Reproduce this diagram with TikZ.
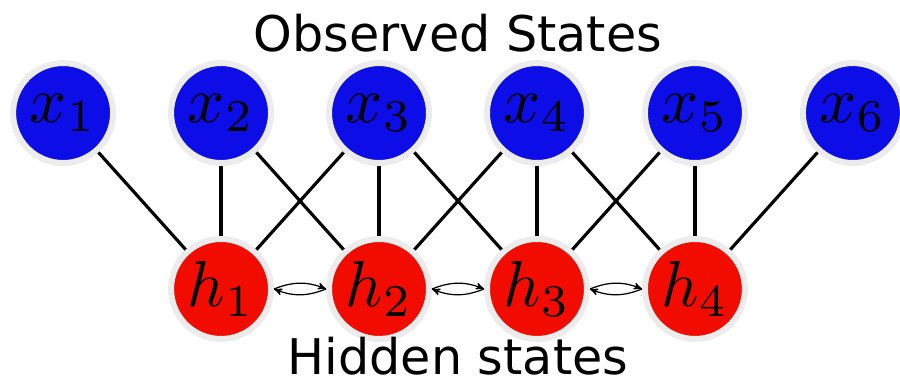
\documentclass[tikz,border=0pt]{standalone}
\usepackage{graphicx}
\usepackage{fontspec}
\setsansfont{DejaVu Sans}
\usepackage{tikz}
\usetikzlibrary{arrows}

% big math labels inside the state circles
\newcommand{\statelabel}[1]{\scalebox{3.7}{$#1$}}

\begin{document}
\begin{tikzpicture}[
  x=0.02cm, y=-0.02cm,
  every matrix/.style={ampersand replacement=\&,column sep=1.04cm,row sep=1.4cm},
  state/.style={circle,draw=gray!15,line width=0.12cm,minimum size=2cm,inner sep=0pt,
    font=\fontsize{10}{10}\selectfont},
  observed/.style={state,fill=blue!90!black!95!white},
  hidden/.style={state,fill=red!90!orange!95!black},
  link/.style={line width=1.8pt,black},
  to/.style={->,>=stealth',line width=0.7pt,bend left=22},
  title/.style={anchor=base,inner sep=0pt,font=\sffamily\fontsize{28}{34}\selectfont}]

  \useasboundingbox (0,0) rectangle (900,379);

  % Position the nodes using a matrix layout
  \matrix at (458,201) {
    \node[observed] (x1) {\statelabel{x_1}}; \&
    \node[observed] (x2) {\statelabel{x_2}}; \&
    \node[observed] (x3) {\statelabel{x_3}}; \&
    \node[observed] (x4) {\statelabel{x_4}}; \&
    \node[observed] (x5) {\statelabel{x_5}}; \&
    \node[observed] (x6) {\statelabel{x_6}}; \\
    \&
    \node[hidden] (h1) {\statelabel{h_1}}; \&
    \node[hidden] (h2) {\statelabel{h_2}}; \&
    \node[hidden] (h3) {\statelabel{h_3}}; \&
    \node[hidden] (h4) {\statelabel{h_4}}; \&
    \\
  };

  \node[title] (obs) at (458,51) {Observed States};
  \node[title] (hid) at (458,374) {Hidden states};

  % Draw the links between observed and hidden states
  \draw[link] (x1) -- (h1);
  \draw[link] (x2) -- (h1);
  \draw[link] (x2) -- (h2);
  \draw[link] (x3) -- (h1);
  \draw[link] (x3) -- (h2);
  \draw[link] (x3) -- (h3);
  \draw[link] (x4) -- (h2);
  \draw[link] (x4) -- (h3);
  \draw[link] (x4) -- (h4);
  \draw[link] (x5) -- (h3);
  \draw[link] (x5) -- (h4);
  \draw[link] (x6) -- (h4);

  % Transitions between neighbouring hidden states
  \draw[to] (h1.east) to (h2.west);
  \draw[to] (h2.west) to (h1.east);
  \draw[to] (h2.east) to (h3.west);
  \draw[to] (h3.west) to (h2.east);
  \draw[to] (h3.east) to (h4.west);
  \draw[to] (h4.west) to (h3.east);
\end{tikzpicture}
\end{document}
